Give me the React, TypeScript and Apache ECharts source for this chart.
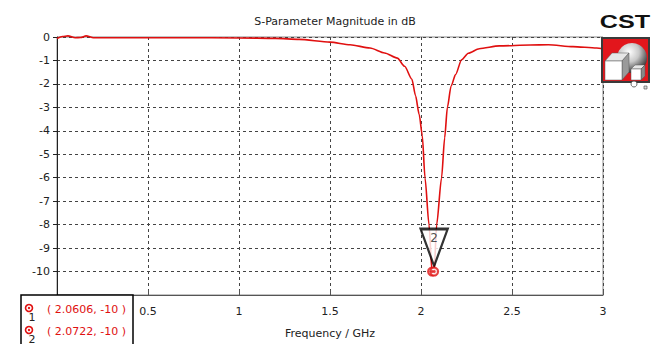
import React, { useEffect, useRef } from "react";
import * as echarts from "echarts";

// Frequency (GHz) and S11 magnitude (dB)
const freq = [0, 0.03, 0.06, 0.1, 0.13, 0.16, 0.2, 0.3, 0.5, 0.7, 1.0, 1.2, 1.33, 1.5, 1.61, 1.72, 1.8, 1.87, 1.91, 1.95, 1.97, 1.99, 2.007, 2.022, 2.044, 2.0606, 2.0664, 2.0722, 2.086, 2.113, 2.13, 2.145, 2.165, 2.19, 2.223, 2.26, 2.32, 2.43, 2.6, 2.7, 2.835, 2.965, 3.0];
const s11 = [-0.06, 0.02, 0.05, -0.03, -0.02, 0.05, -0.03, -0.03, -0.03, -0.03, -0.04, -0.06, -0.1, -0.22, -0.33, -0.47, -0.68, -0.9, -1.25, -1.8, -2.5, -3.3, -4.2, -6.0, -8.0, -10.0, -10.1, -10.0, -8.0, -6.0, -4.3, -3.0, -2.1, -1.6, -0.97, -0.69, -0.5, -0.38, -0.34, -0.33, -0.41, -0.47, -0.5];

// Markers
const markerFreq = [2.0606, 2.0722];
const markerVal = [-10, -10];
const markerNames = ["1", "2"];
const activeMarker = 1;

const titleText = "S-Parameter Magnitude in dB";
const xName = "Frequency / GHz";

const FONT = "DejaVu Sans";
const RED = "#e01010";

export default function App() {
  const ref = useRef<HTMLDivElement>(null);
  useEffect(() => {
    if (!ref.current) return;
    const chart = echarts.init(ref.current, undefined, { renderer: "svg" });
    const lineData = freq.map((f, i) => [f, s11[i]]);
    const markerData = markerFreq.map((f, i) => [f, markerVal[i]]);

    const legendItems: any[] = [];
    markerFreq.forEach((f, i) => {
      const cy = 308 + i * 22;
      legendItems.push(
        { type: "circle", shape: { cx: 29, cy, r: 3.5 }, style: { fill: "#fff", stroke: RED, lineWidth: 1.6 }, z: 101 },
        { type: "circle", shape: { cx: 29, cy, r: 1.2 }, style: { fill: RED }, z: 102 },
        { type: "text", x: 32, y: cy + 9, style: { text: markerNames[i], fill: "#222", font: `11px '${FONT}'`, textAlign: "center", textVerticalAlign: "middle" }, z: 102 },
        { type: "text", x: 47, y: cy + 1, style: { text: `( ${f.toFixed(4)}, ${markerVal[i]} )`, fill: RED, font: `11px '${FONT}'`, textAlign: "left", textVerticalAlign: "middle" }, z: 102 }
      );
    });

    const option: any = {
      animation: false,
      title: {
        text: titleText,
        left: 330,
        top: 11,
        textAlign: "center",
        textStyle: { fontFamily: FONT, fontSize: 11, fontWeight: "normal", color: "#222" },
      },
      grid: { left: 57, right: 53, top: 37, bottom: 46, show: true, borderColor: "#888", borderWidth: 1, backgroundColor: "transparent" },
      xAxis: {
        type: "value",
        min: 0,
        max: 3,
        interval: 0.5,
        name: xName,
        nameLocation: "middle",
        nameGap: 33,
        nameTextStyle: { fontFamily: FONT, fontSize: 11, color: "#222" },
        axisLine: { show: true, onZero: false, lineStyle: { color: "#555", width: 1 } },
        axisTick: { show: true, inside: true, length: 5, lineStyle: { color: "#555" } },
        axisLabel: { fontFamily: FONT, fontSize: 11, color: "#222", margin: 11, showMinLabel: false },
        splitLine: { show: true, lineStyle: { type: [3, 3], color: "#444", width: 1 } },
      },
      yAxis: {
        type: "value",
        min: -11,
        max: 0,
        interval: 1,
        axisLine: { show: true, lineStyle: { color: "#222", width: 1 } },
        axisTick: { show: true, length: 4, lineStyle: { color: "#222" } },
        axisLabel: { fontFamily: FONT, fontSize: 11, color: "#222", margin: 7, showMinLabel: false },
        splitLine: { show: true, lineStyle: { type: [3, 3], color: "#444", width: 1 } },
      },
      series: [
        {
          type: "line",
          data: lineData,
          showSymbol: false,
          symbol: "none",
          smooth: 0.25,
          smoothMonotone: "x",
          lineStyle: { color: RED, width: 1.6 },
          z: 3,
          clip: false,
        },
        {
          type: "scatter",
          data: [markerData[activeMarker]],
          symbol: "path://M0,0 L27,0 L13.5,37 Z",
          symbolSize: [27, 37],
          symbolOffset: [0, -24],
          itemStyle: { color: "#fff", borderColor: "#000", borderWidth: 2.5 },
          label: {
            show: true,
            position: "inside",
            offset: [0, -10],
            formatter: markerNames[activeMarker],
            fontFamily: FONT,
            fontSize: 12,
            color: "#222",
          },
          z: 4,
        },
        {
          type: "scatter",
          data: markerData,
          symbol: "circle",
          symbolSize: 8,
          itemStyle: { color: "#fff", borderColor: RED, borderWidth: 2 },
          z: 5,
        },
        {
          type: "scatter",
          data: markerData,
          symbol: "circle",
          symbolSize: 3,
          itemStyle: { color: RED },
          z: 6,
        },
      ],
      graphic: [
        // Legend box
        { type: "rect", shape: { x: 21, y: 295, width: 112, height: 60 }, style: { fill: "#fff", stroke: "#000", lineWidth: 1.5 }, z: 100 },
        ...legendItems,
        // CST logo
        {
          type: "text",
          x: 625,
          y: 22,
          scaleX: 1.4,
          style: { text: "CST", fill: "#111", font: `bold 18px 'Liberation Sans'`, textAlign: "center", textVerticalAlign: "middle" },
          z: 100,
        },
        { type: "rect", shape: { x: 602, y: 38, width: 47, height: 44 }, style: { fill: "#e2161c", stroke: "#3a3a3a", lineWidth: 2 }, z: 100 },
        {
          type: "circle",
          shape: { cx: 632, cy: 58, r: 15 },
          style: {
            fill: {
              type: "radial", x: 0.4, y: 0.3, r: 0.75,
              colorStops: [
                { offset: 0, color: "#ffffff" },
                { offset: 0.45, color: "#c8c8c8" },
                { offset: 1, color: "#222" },
              ],
            },
          },
          z: 101,
        },
        { type: "polygon", shape: { points: [[605, 61], [612, 53], [629, 53], [622, 61]] }, style: { fill: "#e6e6e6", stroke: "#555", lineWidth: 0.5 }, z: 102 },
        { type: "polygon", shape: { points: [[622, 61], [629, 53], [629, 72], [622, 80]] }, style: { fill: "#9a9a9a", stroke: "#555", lineWidth: 0.5 }, z: 102 },
        { type: "rect", shape: { x: 605, y: 61, width: 17, height: 19 }, style: { fill: "#fff", stroke: "#555", lineWidth: 0.5 }, z: 102 },
        { type: "polygon", shape: { points: [[631, 69], [635, 65], [645, 65], [641, 69]] }, style: { fill: "#e6e6e6", stroke: "#555", lineWidth: 0.5 }, z: 102 },
        { type: "polygon", shape: { points: [[641, 69], [645, 65], [645, 76], [641, 80]] }, style: { fill: "#888", stroke: "#555", lineWidth: 0.5 }, z: 102 },
        { type: "rect", shape: { x: 631, y: 69, width: 10, height: 11 }, style: { fill: "#fff", stroke: "#555", lineWidth: 0.5 }, z: 102 },
        { type: "circle", shape: { cx: 634, cy: 84, r: 3 }, style: { fill: "#fff", stroke: "#444", lineWidth: 0.8 }, z: 102 },
        { type: "rect", shape: { x: 644, y: 86, width: 3, height: 3 }, style: { fill: "#ddd", stroke: "#444", lineWidth: 0.6 }, z: 102 },
      ],
    };
    chart.setOption(option);
    return () => chart.dispose();
  }, []);
  return <div ref={ref} style={{ position: "absolute", left: 0, top: 0, width: 656, height: 344, background: "#fff" }} />;
}
